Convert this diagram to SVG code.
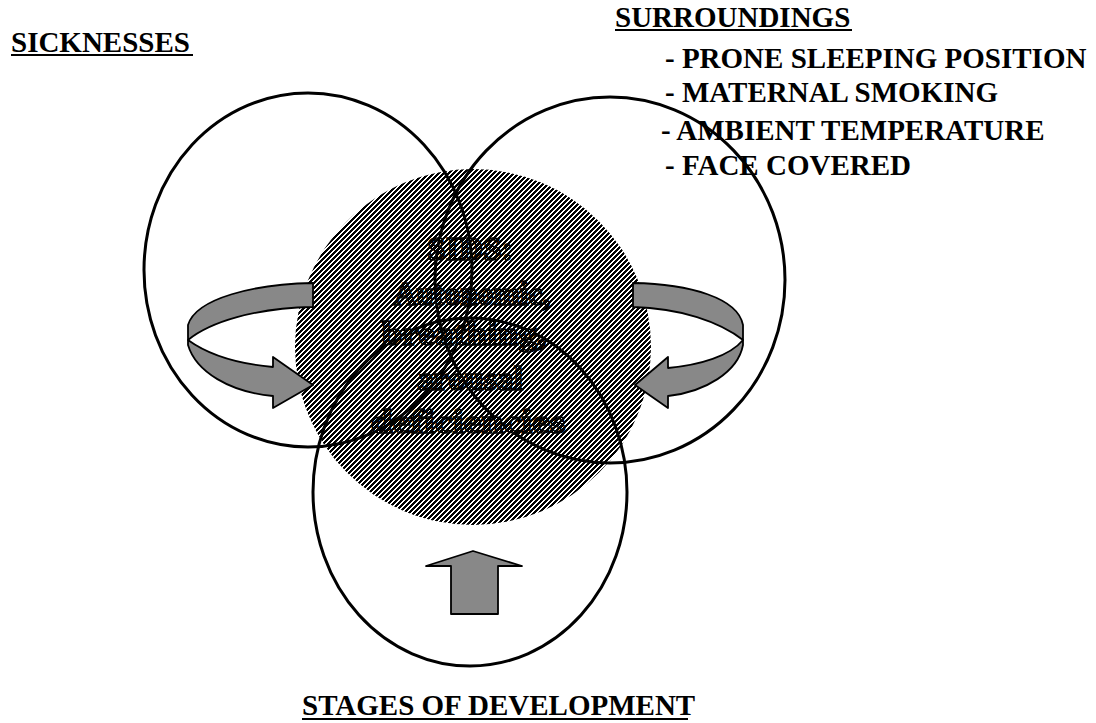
<svg xmlns="http://www.w3.org/2000/svg" width="1096" height="723" viewBox="0 0 1096 723">
<style>
.lbl{font-family:"Liberation Serif","Times New Roman",serif;font-weight:bold;font-size:29px;fill:#000}
.ctr{font-family:"Liberation Serif","Times New Roman",serif;font-weight:bold;font-size:33px;text-anchor:middle;stroke:#000;stroke-width:1.4}
.ring{fill:none;stroke:#000;stroke-width:3}
.band{fill:#888;stroke:#000;stroke-width:1.8;stroke-linejoin:round}
.ul{stroke:#000;stroke-width:2}
</style>
<defs>
<pattern id="hatch" width="5" height="5" patternUnits="userSpaceOnUse">
<rect width="5" height="5" fill="#fff"/>
<path shape-rendering="crispEdges" fill="#000" d="M0,0h3v1h-3z M0,1h2v1h-2z M4,1h1v1h-1z M0,2h1v1h-1z M3,2h2v1h-2z M2,3h3v1h-3z M1,4h3v1h-3z"/>
</pattern>
<pattern id="hatchDark" width="5" height="5" patternUnits="userSpaceOnUse">
<rect width="5" height="5" fill="#000"/>
<path shape-rendering="crispEdges" fill="#fff" d="M4,0h1v1h-1z M3,1h1v1h-1z M2,2h1v1h-1z M1,3h1v1h-1z M0,4h1v1h-1z"/>
</pattern>
</defs>
<rect width="1096" height="723" fill="#fff"/>

<g id="sids">
<circle cx="473" cy="347" r="178" fill="url(#hatch)"/>
</g>

<g id="sicknesses">
<ellipse class="ring" cx="308" cy="270" rx="164" ry="177"/>
<text class="lbl" x="11" y="52">SICKNESSES</text>
<line class="ul" x1="11" y1="55" x2="193" y2="55"/>
</g>

<g id="surroundings">
<text class="lbl" x="615" y="27">SURROUNDINGS</text>
<line class="ul" x1="615" y1="30" x2="852" y2="30"/>
<text class="lbl" x="665" y="68">- PRONE SLEEPING POSITION</text>
<text class="lbl" x="665" y="102">- MATERNAL SMOKING</text>
<text class="lbl" x="661" y="140">- AMBIENT TEMPERATURE</text>
<text class="lbl" x="665" y="175">- FACE COVERED</text>
<ellipse class="ring" cx="610" cy="280" rx="175" ry="183"/>
</g>

<g id="stages">
<ellipse class="ring" cx="470" cy="492" rx="157" ry="174"/>
<text class="lbl" x="302" y="715">STAGES OF DEVELOPMENT</text>
<line class="ul" x1="302" y1="719" x2="688" y2="719"/>
</g>

<g id="sids-text" class="ctr" fill="url(#hatchDark)">
<text x="470" y="260" textLength="86" lengthAdjust="spacingAndGlyphs">SIDS:</text>
<text x="472" y="305" textLength="157" lengthAdjust="spacingAndGlyphs">Autonomic,</text>
<text x="464" y="345" textLength="165" lengthAdjust="spacingAndGlyphs">breathing,</text>
<text x="470" y="390" textLength="106" lengthAdjust="spacingAndGlyphs">arousal</text>
<text x="468" y="433" textLength="195" lengthAdjust="spacingAndGlyphs">deficiencies</text>
</g>

<g id="connectors">
<path class="band" d="M188,340 C210,356 240,364 273,367 L273,357 L313,385 L273,408 L273,396 C230,392 196,372 188,345 Z"/>
<path class="band" d="M313,283 C255,284 196,298 188,325 L188,340 C210,322 255,308 313,307 Z"/>
<path class="band" d="M743,340 C730,356 700,365 668,368 L668,357 L635,385 L668,408 L668,396 C705,392 738,372 743,345 Z"/>
<path class="band" d="M633,283 C690,284 738,298 743,325 L743,340 C720,322 680,308 633,307 Z"/>
<path class="band" d="M473,551 L522,566 L498,566 L498,614 L451,614 L451,566 L426,566 Z"/>
</g>
</svg>
